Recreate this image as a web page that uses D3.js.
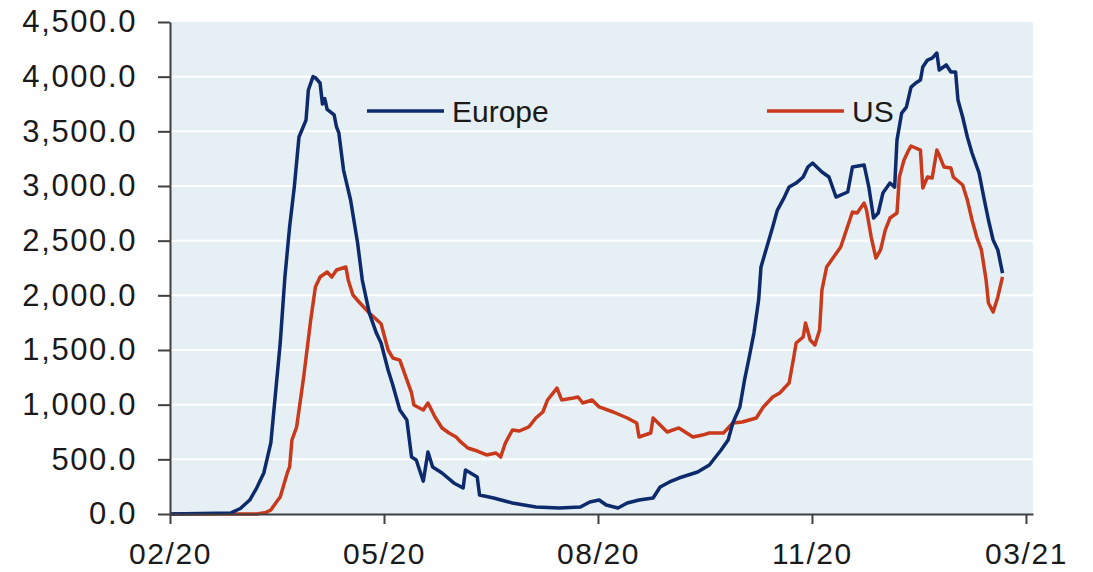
<!DOCTYPE html>
<html>
<head>
<meta charset="utf-8">
<script src="https://cdn.jsdelivr.net/npm/d3@7"></script>
<style>
  body { margin: 0; background: #fff; }
  svg text { font-family: "Liberation Sans", Arial, sans-serif; fill: #1a1a1a; }
</style>
</head>
<body>
<svg id="chart" width="1093" height="572"></svg>
<script>
// values, x in days since 1 Feb 2020
var yTicks = [0, 500, 1000, 1500, 2000, 2500, 3000, 3500, 4000, 4500];
var xTickDays = [0, 91.25, 182.5, 273.75, 365];
var xTickLabels = ["02/20", "05/20", "08/20", "11/20", "03/21"];
var seriesNames = ["Europe", "US"];

var europeDays = [0, 26, 30, 34, 37, 40, 43, 45, 47, 49, 51, 53, 55, 58, 59, 61, 62, 64, 65, 66, 67, 70, 71, 72, 74, 77, 80, 82, 85, 88, 90,
  93, 95, 98, 101, 103, 105, 108, 110, 112, 116, 121, 125, 126, 131, 132, 138, 146, 156, 166, 175, 179, 183, 186, 191, 195, 200,
  206, 209, 213, 217, 225, 230, 235, 238, 240, 243, 245, 247, 249, 251, 252, 255, 257, 259, 262, 264, 267, 270, 272, 274, 278,
  281, 284, 289, 291, 296, 298, 300, 302, 304, 307, 309, 310, 312, 314, 316, 318, 320, 321, 323, 325, 327, 328, 331, 333, 335,
  336, 338, 340, 342, 345, 347, 349, 351, 353, 355];
var europeValues = [0, 10, 50, 128, 240, 375, 650, 1107, 1564, 2168, 2625, 2990, 3448, 3603, 3878, 4000, 3990, 3942, 3750, 3800, 3700, 3650, 3540, 3485, 3146, 2872, 2478, 2140, 1838, 1655, 1564,
  1317, 1180, 951, 860, 521, 494, 300, 567, 430, 375, 284, 238, 402, 338, 174, 146, 101, 64, 55, 64, 110, 128, 82, 55, 101, 128,
  146, 247, 293, 329, 384, 448, 585, 677, 832, 979, 1226, 1436, 1655, 1957, 2259, 2478, 2625, 2780, 2899, 2990, 3027, 3082, 3174, 3210, 3128,
  3082, 2899, 2945, 3174, 3192, 2990, 2707, 2753, 2936, 3027, 2990, 3420, 3667, 3722, 3905, 3942, 3969, 4088, 4152, 4170, 4216, 4061, 4107, 4042, 4042,
  3786, 3631, 3448, 3302, 3119, 2899, 2689, 2506, 2415, 2204];

var usDays = [0, 37, 41, 43, 46, 47, 50, 51, 52, 54, 57, 60, 62, 64, 67, 69, 71, 75, 76, 78, 81, 85, 90, 93, 95, 98, 101, 103, 104,
  108, 110, 113, 116, 119, 122, 124, 127, 131, 135, 139, 141, 143, 146, 149, 153, 156, 159, 161, 165, 167, 172, 174, 176, 180,
  183, 189, 195, 199, 200, 205, 206, 209, 212, 217, 223, 227, 230, 236, 240, 244, 250, 253, 257, 260, 264, 266, 267, 270, 271,
  273, 275, 277, 278, 280, 283, 286, 288, 291, 293, 296, 297, 299, 301, 303, 305, 307, 310, 311, 313, 315, 316, 320, 321, 323,
  325, 327, 328, 330, 333, 334, 338, 340, 342, 344, 346, 348, 349, 351, 353, 355];
var usValues = [0, 0, 15, 37, 128, 155, 375, 430, 677, 796, 1253, 1774, 2076, 2168, 2213, 2168, 2232, 2259, 2140, 2003, 1930, 1838, 1740, 1500, 1427, 1408, 1226, 1107, 997,
  951, 1015, 887, 787, 741, 704, 659, 604, 576, 540, 558, 521, 649, 768, 759, 796, 878, 933, 1043, 1152, 1043, 1061, 1070, 1015, 1043,
  979, 933, 878, 832, 704, 741, 878, 814, 750, 787, 704, 722, 741, 741, 832, 841, 878, 979, 1070, 1107, 1198, 1436, 1564, 1619, 1747,
  1591, 1546, 1683, 2049, 2259, 2351, 2442, 2570, 2762, 2753, 2844, 2780, 2533, 2341, 2415, 2597, 2707, 2753, 3082, 3238, 3329, 3366, 3329, 2982, 3082,
  3073, 3329, 3283, 3174, 3164, 3082, 3009, 2872, 2689, 2533, 2415, 2140, 1930, 1847, 1985, 2168];

function init() {
  var plot = { left: 170, right: 1033, top: 22, bottom: 514 };
  var colors = { Europe: "#0c2a6c", US: "#c9391b" };

  var x = d3.scaleLinear().domain([0, 368]).range([plot.left, plot.right]);
  var y = d3.scaleLinear().domain([0, 4500]).range([plot.bottom, plot.top]);

  var svg = d3.select("#chart");

  svg.append("rect")
    .attr("x", plot.left).attr("y", plot.top)
    .attr("width", plot.right - plot.left).attr("height", plot.bottom - plot.top)
    .attr("fill", "#e6eff3");

  svg.append("g").selectAll("line")
    .data(yTicks.filter(function (d) { return d > 0 && d < 4500; }))
    .enter().append("line")
    .attr("x1", plot.left).attr("x2", plot.right)
    .attr("y1", function (d) { return y(d); })
    .attr("y2", function (d) { return y(d); })
    .attr("stroke", "#ffffff")
    .attr("stroke-width", 2);

  var line = d3.line()
    .x(function (d) { return x(d[0]); })
    .y(function (d) { return y(d[1]); });

  var europe = d3.zip(europeDays, europeValues);
  var us = d3.zip(usDays, usValues);

  svg.append("path")
    .datum(us)
    .attr("d", line)
    .attr("fill", "none")
    .attr("stroke", colors.US)
    .attr("stroke-width", 3.5)
    .attr("stroke-linejoin", "round");

  svg.append("path")
    .datum(europe)
    .attr("d", line)
    .attr("fill", "none")
    .attr("stroke", colors.Europe)
    .attr("stroke-width", 3.5)
    .attr("stroke-linejoin", "round");

  var yAxis = d3.axisLeft(y)
    .tickValues(yTicks)
    .tickFormat(d3.format(",.1f"))
    .tickSize(12)
    .tickSizeOuter(0)
    .tickPadding(21);

  var xAxis = d3.axisBottom(x)
    .tickValues(xTickDays)
    .tickFormat(function (d, i) { return xTickLabels[i]; })
    .tickSize(10)
    .tickSizeOuter(0);

  var gy = svg.append("g")
    .attr("transform", "translate(" + plot.left + ",0)")
    .call(yAxis);
  gy.selectAll("text")
    .style("font-size", "31px")
    .style("letter-spacing", "1.6px")
    .attr("fill", "#1a1a1a");

  var gx = svg.append("g")
    .attr("transform", "translate(0," + plot.bottom + ")")
    .call(xAxis);
  gx.selectAll("text")
    .attr("y", 50)
    .attr("dy", 0)
    .style("font-size", "30px")
    .style("letter-spacing", "1.6px")
    .attr("fill", "#1a1a1a");

  svg.selectAll(".domain, .tick line")
    .attr("stroke", "#404040")
    .attr("stroke-width", 2);

  // legend
  var legendPos = { Europe: 367, US: 767 };
  var legend = svg.append("g").selectAll("g")
    .data(seriesNames)
    .enter().append("g")
    .attr("transform", function (d) { return "translate(" + legendPos[d] + ",111)"; });

  legend.append("line")
    .attr("x1", 0).attr("x2", 77)
    .attr("stroke", function (d) { return colors[d]; })
    .attr("stroke-width", 3.5);

  legend.append("text")
    .attr("x", 85)
    .attr("dy", "0.35em")
    .style("font-size", "30px")
    .text(function (d) { return d; });
}

window.addEventListener("DOMContentLoaded", init);
</script>
</body>
</html>
